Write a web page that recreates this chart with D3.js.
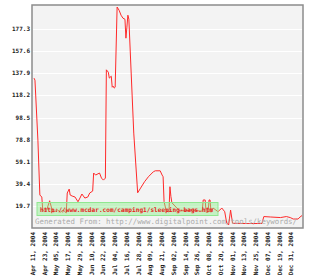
<!DOCTYPE html>
<html><head><meta charset="utf-8">
<script src="https://cdn.jsdelivr.net/npm/d3@7"></script>
<style>body{margin:0;background:#fff}svg{display:block}</style>
</head><body>
<script>
// Data (days after Apr 11, 2004, value)
const dayOffsets = [1,2,5,7,9,10,12,14,17,19,21,25,28,31,34,35,37,38,40,43,46,48,50,53,56,58,61,62,64,68,70,72,74,75,77,78,80,81,82,83,84,86,88,90,92,94,95,96,97,98,103,107,110,114,118,123,125,130,132,133,134,136,139,140,141,142,150,161,171,173,174,176,177,179,180,181,182,184,187,189,191,193,196,198,200,202,204,217,234,236,243,253,259,263,266,271,273,275];
const values = [133.6,131.8,78.4,29.4,27.6,16,14.2,16,24.3,17.8,14.2,16,14.2,16,13.4,31.2,34.7,29.4,28.5,27.6,23.4,26.7,30.3,26.7,27.6,31.2,32.9,49,47.2,49,44.5,42.7,44.5,141,138.9,133.6,135.3,125.5,126.4,124.7,125.5,197,194.1,189.7,187,186.1,169.2,179,189.7,186.1,84.6,31.4,35.6,41.2,45.7,50.1,51,51,47.2,45.7,23.4,16,14.2,36.8,27.9,22.5,15.1,16,15.1,15,25,25,14,14,25,25,14,17.8,16,14.5,16,17.8,14.5,4.5,2.7,16,4.2,4,4,10.2,9.8,9.3,10.2,9.3,8,8,9.8,11.1];
const yTicks = [19.7,39.4,59.1,78.8,98.5,118.2,137.9,157.6,177.3];
const xTickLabels = ["Apr 11, 2004","Apr 23, 2004","May 05, 2004","May 17, 2004","May 29, 2004","Jun 10, 2004","Jun 22, 2004","Jul 04, 2004","Jul 16, 2004","Jul 28, 2004","Aug 09, 2004","Aug 21, 2004","Sep 02, 2004","Sep 14, 2004","Sep 26, 2004","Oct 08, 2004","Oct 20, 2004","Nov 01, 2004","Nov 13, 2004","Nov 25, 2004","Dec 07, 2004","Dec 19, 2004","Dec 31, 2004"];
const watermarkUrl = "http://www.mcdar.com/camping1/sleeping-bags.htm";
const generatedText = "Generated From:  http://www.digitalpoint.com/tools/keywords/";

const W = 313, H = 280;
const L = 32, R = 303, T = 5, B = 228;
const start = new Date(2004, 3, 11);
const dayMs = 86400000;
const data = dayOffsets.map((d, i) => ({date: new Date(start.getTime() + d * dayMs), v: values[i]}));

const x = d3.scaleTime().domain([start, new Date(2005, 0, 11)]).range([33, 302]);
const y = d3.scaleLinear().domain([0, 197]).range([B, 7]);

const svg = d3.select("body").append("svg").attr("width", W).attr("height", H);

svg.append("rect").attr("x", L).attr("y", T).attr("width", R - L).attr("height", B - T).attr("fill", "#f3f3f3");

// grid
svg.append("g").selectAll("line").data(yTicks).join("line")
  .attr("x1", L + 1).attr("x2", R - 1)
  .attr("y1", d => Math.round(y(d)) + 0.5).attr("y2", d => Math.round(y(d)) + 0.5)
  .attr("stroke", "#ffffff").attr("stroke-width", 1);

// y labels
svg.append("g").selectAll("text").data(yTicks).join("text")
  .attr("x", 30).attr("y", d => y(d) + 2)
  .attr("text-anchor", "end")
  .attr("font-family", "DejaVu Sans Mono").attr("font-weight", "bold").attr("font-size", 6)
  .attr("fill", "#222").text(d => d.toFixed(1));

// x labels
const parse = d3.timeParse("%b %d, %Y");
svg.append("g").selectAll("text").data(xTickLabels).join("text")
  .attr("transform", d => `translate(${x(parse(d)) + 2},232) rotate(-90)`)
  .attr("text-anchor", "end")
  .attr("font-family", "DejaVu Sans Mono").attr("font-weight", "bold").attr("font-size", 6)
  .attr("fill", "#222").text(d => d);

// line
const line = d3.line().x(d => x(d.date)).y(d => y(d.v));
svg.append("path").datum(data).attr("d", line)
  .attr("fill", "none").attr("stroke", "#ff2a2a").attr("stroke-width", 1);

// watermark box
svg.append("rect").attr("x", 37).attr("y", 202.5).attr("width", 181).attr("height", 13)
  .attr("fill", "rgb(140,240,140)").attr("fill-opacity", 0.45)
  .attr("stroke", "#90e890").attr("stroke-width", 1);
svg.append("text").attr("x", 40).attr("y", 211.5)
  .attr("font-family", "DejaVu Sans Mono").attr("font-weight", "bold").attr("font-size", 6.3)
  .attr("textLength", 173).attr("lengthAdjust", "spacingAndGlyphs")
  .attr("fill", "#e82020").text(watermarkUrl);

svg.append("text").attr("x", 35).attr("y", 223.5)
  .attr("font-family", "DejaVu Sans Mono").attr("font-size", 7.5)
  .attr("textLength", 262).attr("lengthAdjust", "spacingAndGlyphs")
  .attr("fill", "#ababab").text(generatedText);

// border
svg.append("rect").attr("x", L).attr("y", T).attr("width", R - L).attr("height", B - T)
  .attr("fill", "none").attr("stroke", "#8c8c8c").attr("stroke-width", 1.5);
</script>
</body></html>
